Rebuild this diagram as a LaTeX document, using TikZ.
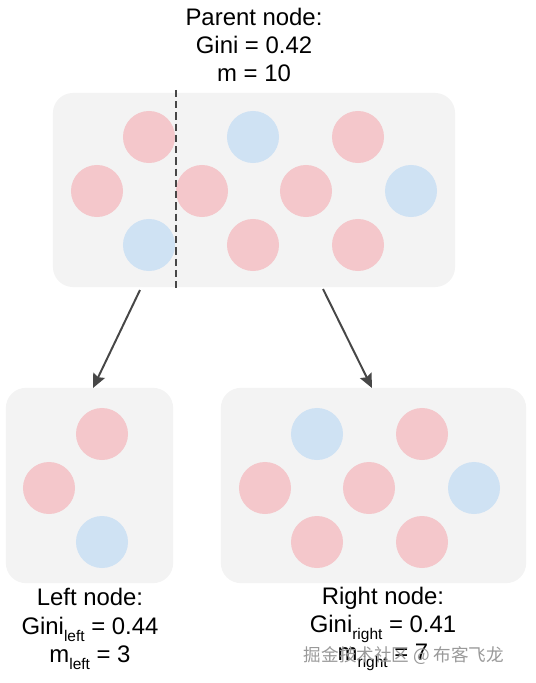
\documentclass[tikz,border=0pt]{standalone}
\usepackage{fontspec}
\setmainfont{Liberation Sans}
\newfontfamily\cjk{Noto Sans CJK SC}
\usepackage{xcolor}
\usetikzlibrary{arrows.meta}
\definecolor{boxgray}{HTML}{F3F3F3}
\definecolor{dotpink}{HTML}{F4C7CB}
\definecolor{dotblue}{HTML}{CFE2F3}
\definecolor{linegray}{HTML}{474747}
\newcommand{\sub}[1]{\raisebox{-5pt}{\fontsize{11}{11}\selectfont #1}}

\begin{document}
\begin{tikzpicture}[x=0.025cm, y=-0.025cm,
  box/.style={fill=boxgray, rounded corners=0.5cm, inner sep=0pt},
  label text/.style={align=center, font=\fontsize{17}{20}\selectfont, inner sep=0pt},
  split arrow/.style={draw=linegray, line width=1.4pt, -{Stealth[length=10pt,width=9pt,inset=1.5pt]}}]

% Canvas
\useasboundingbox (0,0) rectangle (535,683);

% Radius of the dots
\def\rad{0.65cm}

% Boxes
\node[box, minimum width=10.05cm, minimum height=4.85cm] (parent) at (254,190) {};
\node[box, minimum width=4.18cm, minimum height=4.88cm] (left) at (89.5,485.5) {};
\node[box, minimum width=7.63cm, minimum height=4.88cm] (right) at (373.5,485.5) {};

% Dots in the parent node
\foreach \x/\y/\c in {149/137/dotpink, 97/191/dotpink, 149/245/dotblue,
  253/137/dotblue, 358/137/dotpink, 202/191/dotpink, 306/191/dotpink,
  411/191/dotblue, 253/245/dotpink, 358/245/dotpink}
  \fill[\c] (\x,\y) circle (\rad);

% Dots in the left node
\foreach \x/\y/\c in {102/434/dotpink, 49/488/dotpink, 102/542/dotblue}
  \fill[\c] (\x,\y) circle (\rad);

% Dots in the right node
\foreach \x/\y/\c in {317/434/dotblue, 422/434/dotpink, 265/488/dotpink,
  369/488/dotpink, 474/488/dotblue, 317/542/dotpink, 422/542/dotpink}
  \fill[\c] (\x,\y) circle (\rad);

% Split line
\coordinate (cut top) at (176,90);
\coordinate (cut bottom) at (176,291);
\draw[linegray, line width=1.4pt, dash pattern=on 5pt off 3pt] (cut top) -- (cut bottom);

% Arrows to the children
\coordinate (from left) at (140,290);
\coordinate (to left) at (93,388);
\coordinate (from right) at (323,289);
\coordinate (to right) at (372,388);
\draw[split arrow] (from left) -- (to left);
\draw[split arrow] (from right) -- (to right);

% Labels
\node[label text] (parent label) at (254,45) {Parent node:\\Gini = 0.42\\m = 10};
\node[label text] (left label) at (90,629) {Left node:\\Gini\sub{left} = 0.44\\m\sub{left} = 3};
\node[label text] (right label) at (383,629) {Right node:\\Gini\sub{right} = 0.41\\m\sub{right} = 7};

% Watermark
\node[font=\cjk\fontsize{12.5}{14}\selectfont, text=gray!80, inner sep=0pt] (mark) at (404,656) {掘金技术社区 @ 布客飞龙};

\end{tikzpicture}
\end{document}
